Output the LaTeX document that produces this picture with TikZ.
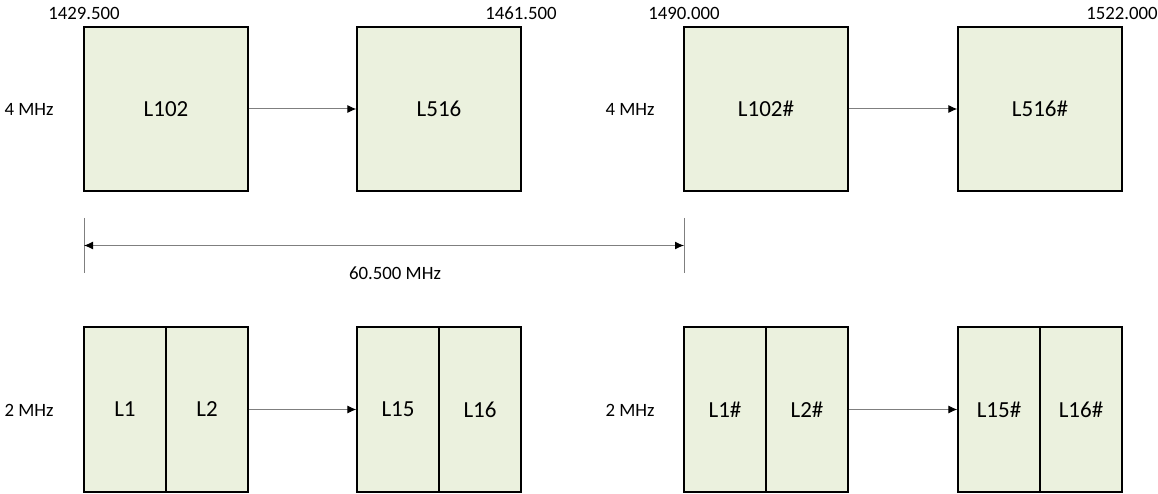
\documentclass[tikz,border=0pt]{standalone}
\usepackage{fontspec}
\setmainfont{Carlito}
\usetikzlibrary{arrows.meta}

\definecolor{bandfill}{HTML}{EBF1DE}
\definecolor{linkgray}{HTML}{7F7F7F}

\tikzset{
  band/.style={draw=black, line width=1.3pt, fill=bandfill, inner sep=0pt,
    minimum width=164pt, minimum height=164pt, font=\fontsize{23}{27}\selectfont},
  half/.style={band, minimum width=82pt, minimum height=165pt},
  lbl/.style={inner sep=0pt, font=\fontsize{18.8}{22}\selectfont},
  link/.style={draw=linkgray, line width=1pt, -{Latex[length=9pt,width=8pt,color=black]}},
}

\begin{document}
\begin{tikzpicture}[x=1pt,y=-1pt]
\useasboundingbox (0,0) rectangle (1158,494);

%% 4 MHz blocks
\node[band] (l102)  at (166,109)  {L102};
\node[band] (l516)  at (439,109)  {L516};
\node[band] (l102h) at (766,109)  {L102\#};
\node[band] (l516h) at (1040,109) {L516\#};

%% 2 MHz blocks
\node[half] (l1)   at (125,409.5)  {L1};
\node[half] (l2)   at (207,409.5)  {L2};
\node[half] (l15)  at (398,409.5)  {L15};
\node[half] (l16)  at (480,409.5)  {L16};
\node[half] (l1h)  at (725,409.5)  {L1\#};
\node[half] (l2h)  at (807,409.5)  {L2\#};
\node[half] (l15h) at (999,409.5)  {L15\#};
\node[half] (l16h) at (1081,409.5) {L16\#};

%% frequency labels
\node[lbl] (f1) at (84,13)    {1429.500};
\node[lbl] (f2) at (521,13)   {1461.500};
\node[lbl] (f3) at (684,13)   {1490.000};
\node[lbl] (f4) at (1122,13)  {1522.000};
\node[lbl] (w1) at (29,109)   {4 MHz};
\node[lbl] (w2) at (630,109)  {4 MHz};
\node[lbl] (w3) at (29,410)   {2 MHz};
\node[lbl] (w4) at (630,410)  {2 MHz};

%% links
\draw[link] (l102.east)  -- (l516.west);
\draw[link] (l102h.east) -- (l516h.west);
\draw[link] (l2.east)    -- (l15.west);
\draw[link] (l2h.east)   -- (l15h.west);

%% spacing
\coordinate (ta) at (84,218);
\coordinate (tb) at (84,273);
\coordinate (tc) at (684,218);
\coordinate (td) at (684,273);
\coordinate (da) at (84,245.5);
\coordinate (db) at (684,245.5);
\draw[draw=linkgray, line width=1pt] (ta) -- (tb);
\draw[draw=linkgray, line width=1pt] (tc) -- (td);
\draw[draw=linkgray, line width=1pt, {Latex[length=9pt,width=8pt,color=black]}-{Latex[length=9pt,width=8pt,color=black]}] (da) -- (db);
\node[lbl] (gap) at (395,273) {60.500 MHz};

\end{tikzpicture}
\end{document}
